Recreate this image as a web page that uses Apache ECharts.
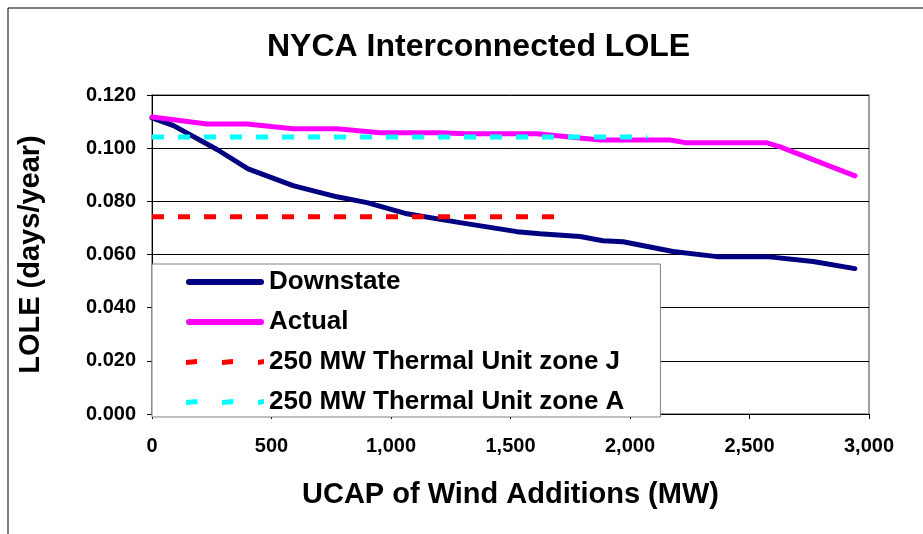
<!DOCTYPE html>
<html>
<head>
<meta charset="utf-8">
<script src="https://cdn.jsdelivr.net/npm/echarts@6.0.0/dist/echarts.min.js"></script>
<style>
  html, body { margin: 0; padding: 0; background: #fff; }
</style>
</head>
<body>
<div id="chart" style="width: 923px; height: 534px;"></div>

<script>
  // UCAP of wind additions (MW) and LOLE (days/year)
  const downstateX = [0, 90, 272, 402, 590, 774, 900, 1067, 1289, 1527, 1623, 1791, 1887, 1971, 2180, 2364, 2573, 2766, 2941];
  const downstateY = [0.1114, 0.1085, 0.0995, 0.0922, 0.0859, 0.0817, 0.0795, 0.0753, 0.0720, 0.0686, 0.0678, 0.0668, 0.0652, 0.0648, 0.0611, 0.0592, 0.0592, 0.0574, 0.0547];

  const actualX = [0, 230, 397, 590, 774, 954, 1205, 1318, 1611, 1874, 2167, 2238, 2573, 2628, 2941];
  const actualY = [0.1117, 0.1091, 0.1091, 0.1073, 0.1073, 0.1058, 0.1058, 0.1054, 0.1054, 0.1031, 0.1031, 0.1020, 0.1020, 0.1005, 0.0896];

  const zoneJX = [0, 1700];
  const zoneJY = [0.0742, 0.0742];

  const zoneAX = [0, 2070];
  const zoneAY = [0.1042, 0.1042];

  const seriesNames = ['Downstate', 'Actual', '250 MW Thermal Unit zone J', '250 MW Thermal Unit zone A'];

  const pairs = (xs, ys) => xs.map((x, i) => [x, ys[i]]);

  // legend samples: a solid bar, or three short dashes
  const solidIcon = 'path://M3,0H75A3,3,0,0,1,75,6H3A3,3,0,0,1,3,0Z';
  const dashIcon = 'path://M0,1L11,0V5L0,6Z M36,1L47,0V5L36,6Z M72,1L78,0V5L72,6Z';

  const ready = (fn) => {
    if (document.readyState !== "loading") {
      fn();
    } else {
      document.addEventListener("DOMContentLoaded", fn);
    }
  };

  ready(() => {
    const chartDom = document.getElementById("chart");
    const myChart = echarts.init(chartDom, null, { renderer: "canvas" });
    const font = 'Liberation Sans, Arial, sans-serif';

    const lineSeries = (name, data, color, dashed) => ({
      name,
      type: 'line',
      data,
      symbol: 'none',
      smooth: false,
      lineStyle: {
        color,
        width: 5,
        type: dashed ? [12, 14] : 'solid',
        cap: dashed ? 'butt' : 'round'
      },
      itemStyle: { color }
    });

    const option = {
      animation: false,
      backgroundColor: '#fff',
      textStyle: { fontFamily: font },
      title: {
        text: 'NYCA Interconnected LOLE',
        left: 262,
        top: 26,
        textStyle: { fontSize: 32, fontWeight: 'bold', color: '#000', fontFamily: font }
      },
      graphic: [
        {
          type: 'rect',
          shape: { x: 8, y: 8, width: 1000, height: 1000 },
          style: { fill: 'none', stroke: '#000', lineWidth: 1 },
          silent: true
        },
        {
          type: 'rect',
          shape: { x: 152, y: 95, width: 717, height: 319 },
          style: { fill: 'none', stroke: '#808080', lineWidth: 1.5 },
          silent: true,
          z: -1
        }
      ],
      legend: {
        data: [
          { name: seriesNames[0], icon: solidIcon },
          { name: seriesNames[1], icon: solidIcon },
          { name: seriesNames[2], icon: dashIcon },
          { name: seriesNames[3], icon: dashIcon }
        ],
        orient: 'vertical',
        left: 152,
        top: 264,
        padding: [5, 36, 2, 34],
        itemWidth: 78,
        itemHeight: 6,
        itemGap: 14,
        backgroundColor: '#fff',
        borderColor: '#808080',
        borderWidth: 1,
        textStyle: { fontSize: 26, fontWeight: 'bold', color: '#000', fontFamily: font, padding: [0, 0, 0, 0] },
        z: 10
      },
      grid: {
        left: 152,
        right: 54,
        top: 95,
        bottom: 120
      },
      xAxis: {
        type: 'value',
        min: 0,
        max: 3000,
        interval: 500,
        name: 'UCAP of Wind Additions (MW)',
        nameLocation: 'middle',
        nameGap: 66,
        nameTextStyle: { fontSize: 29, fontWeight: 'bold', color: '#000', fontFamily: font },
        axisLine: { lineStyle: { color: '#000', width: 1 } },
        axisTick: { show: true, length: 5, lineStyle: { color: '#000' } },
        axisLabel: {
          fontSize: 20,
          fontWeight: 'bold',
          color: '#000',
          margin: 22,
          formatter: (v) => v.toLocaleString('en-US')
        },
        splitLine: { show: false }
      },
      yAxis: {
        type: 'value',
        min: 0,
        max: 0.12,
        interval: 0.02,
        name: 'LOLE (days/year)',
        nameLocation: 'middle',
        nameGap: 107,
        nameRotate: 90,
        nameTextStyle: { fontSize: 29, fontWeight: 'bold', color: '#000', fontFamily: font },
        axisLine: { show: true, lineStyle: { color: '#000', width: 1 } },
        axisTick: { show: true, length: 5, lineStyle: { color: '#000' } },
        axisLabel: {
          fontSize: 20,
          fontWeight: 'bold',
          color: '#000',
          margin: 16,
          formatter: (v) => v.toFixed(3)
        },
        splitLine: { show: true, lineStyle: { color: '#000', width: 1 } }
      },
      series: [
        lineSeries(seriesNames[0], pairs(downstateX, downstateY), '#000080', false),
        lineSeries(seriesNames[1], pairs(actualX, actualY), '#FF00FF', false),
        lineSeries(seriesNames[2], pairs(zoneJX, zoneJY), '#FF0000', true),
        lineSeries(seriesNames[3], pairs(zoneAX, zoneAY), '#00FFFF', true)
      ]
    };
    myChart.setOption(option);
  });
</script>
</body>
</html>
